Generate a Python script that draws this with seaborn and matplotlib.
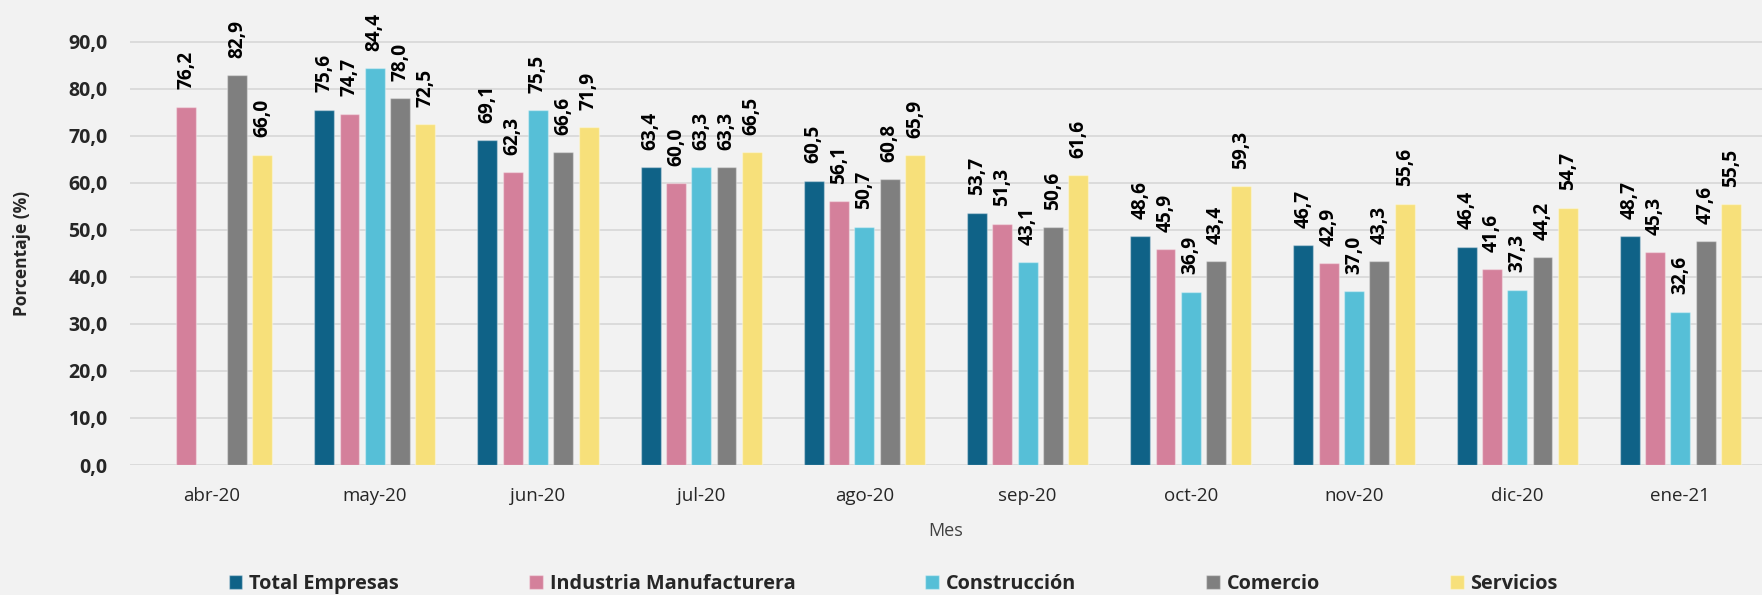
import numpy as np
import pandas as pd
import matplotlib
matplotlib.use("Agg")
import matplotlib.pyplot as plt
import seaborn as sns

meses = ["abr-20", "may-20", "jun-20", "jul-20", "ago-20", "sep-20", "oct-20", "nov-20", "dic-20", "ene-21"]
series = ["Total Empresas", "Industria Manufacturera", "Construcción", "Comercio", "Servicios"]
total_empresas = [np.nan, 75.6, 69.1, 63.4, 60.5, 53.7, 48.6, 46.7, 46.4, 48.7]
industria = [76.2, 74.7, 62.3, 60.0, 56.1, 51.3, 45.9, 42.9, 41.6, 45.3]
construccion = [np.nan, 84.4, 75.5, 63.3, 50.7, 43.1, 36.9, 37.0, 37.3, 32.6]
comercio = [82.9, 78.0, 66.6, 63.3, 60.8, 50.6, 43.4, 43.3, 44.2, 47.6]
servicios = [66.0, 72.5, 71.9, 66.5, 65.9, 61.6, 59.3, 55.6, 54.7, 55.5]
yticks = [0, 10, 20, 30, 40, 50, 60, 70, 80, 90]

colors = ["#0f6287", "#d4809b", "#56bfd7", "#7f7f7f", "#f7e07a"]
bg = "#f2f2f2"

rows = []
for s, vals in zip(series, [total_empresas, industria, construccion, comercio, servicios]):
    for m, v in zip(meses, vals):
        rows.append({"Mes": m, "Serie": s, "Valor": v})
df = pd.DataFrame(rows)

sns.set_theme(style="white")
plt.rcParams["font.family"] = ["Open Sans", "DejaVu Sans"]

fig = plt.figure(figsize=(17.62, 5.95), dpi=100, facecolor=bg)
ax = fig.add_axes([130 / 1762, 130 / 595, 1632 / 1762, 465 / 595])
ax.set_facecolor(bg)

sns.barplot(data=df, x="Mes", y="Valor", hue="Serie", order=meses, hue_order=series,
            palette=colors, width=0.775, gap=0.21, ax=ax, saturation=1,
            edgecolor=(1, 1, 1, 0.35), linewidth=1, legend=True, errorbar=None)

for cont in ax.containers:
    for bar in cont:
        h = bar.get_height()
        if np.isnan(h) or h == 0:
            continue
        ax.annotate(f"{h:.1f}".replace(".", ","),
                    (bar.get_x() + bar.get_width() / 2, h),
                    xytext=(0, 12.5), textcoords="offset points",
                    rotation=90, ha="center", va="bottom",
                    fontsize=13.8, fontweight="bold", color="black")

ax.set_ylim(0, 98.9)
ax.set_xlim(-0.5, len(meses) - 0.5)
ax.set_yticks(yticks)
ax.set_yticklabels([f"{t:.1f}".replace(".", ",") for t in yticks], fontsize=14, fontweight="bold")
ax.tick_params(axis="y", length=0, pad=16)
ax.tick_params(axis="x", length=0, pad=16, labelsize=13.5, labelcolor="#262626")
ax.grid(axis="y", color="#d9d9d9", linewidth=1.3)
ax.set_axisbelow(True)
for sp in ax.spines.values():
    sp.set_visible(False)

ax.set_xlabel("Mes", fontsize=13, color="#404040", labelpad=12)
ax.set_ylabel("Porcentaje (%)", fontsize=12.5, fontweight="bold")
ax.yaxis.set_label_coords(-0.0605, 0.456)

handles, labels = ax.get_legend_handles_labels()
ax.get_legend().remove()
fig.legend(handles, labels, loc="center", bbox_to_anchor=(0.507, 0.019), ncol=5,
           frameon=False, prop={"weight": "bold", "size": 14.3},
           handlelength=0.68, handleheight=0.68, handletextpad=0.35, columnspacing=6.55)

fig.savefig("out.png", dpi=100, facecolor=bg)
